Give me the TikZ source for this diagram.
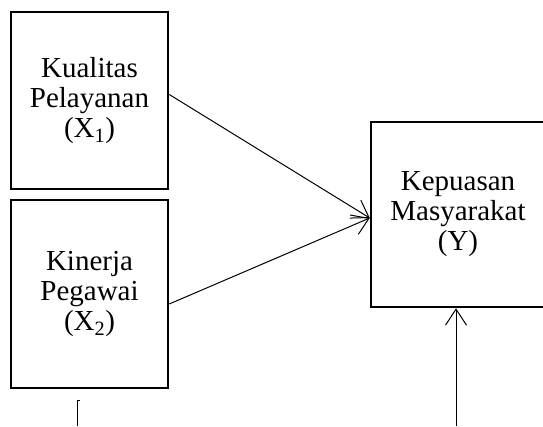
\documentclass[tikz,border=0pt]{standalone}
\usepackage{fontspec}
\setmainfont{Liberation Serif}
\usetikzlibrary{arrows.meta}
\tikzset{
  varbox/.style={draw,line width=2.5pt,align=center,font=\fontsize{29}{30}\selectfont},
  panah/.style={line width=1pt,-{Straight Barb[length=16pt,width=21pt,line width=1pt]}}
}
\begin{document}
\begin{tikzpicture}[x=1pt,y=1pt]
\useasboundingbox (0,0) rectangle (543,426);
\clip (0,0) rectangle (543,426);
\node[varbox,minimum width=157pt,minimum height=177pt] (kual) at (89.5,325.5){Kualitas\\Pelayanan\\(X\textsubscript{1})};
\node[varbox,minimum width=157pt,minimum height=188pt] (kin) at (89.5,132){Kinerja\\Pegawai\\(X\textsubscript{2})};
\node[varbox,minimum width=174pt,minimum height=185pt] (kep) at (458,211.5){Kepuasan\\Masyarakat\\(Y)};
\coordinate (bawah) at (456,0);
\coordinate (stub) at (77,0);
\draw[panah] ([yshift=6pt]kual.east) -- ([yshift=-3.5pt]kep.west);
\draw[panah] ([yshift=-10pt]kin.east) -- ([yshift=-3.5pt]kep.west);
\draw[panah] (bawah) -- (bawah |- kep.south);
\draw[line width=1pt] (stub) -- ++(0,26) -- ++(3,0);
\end{tikzpicture}
\end{document}
